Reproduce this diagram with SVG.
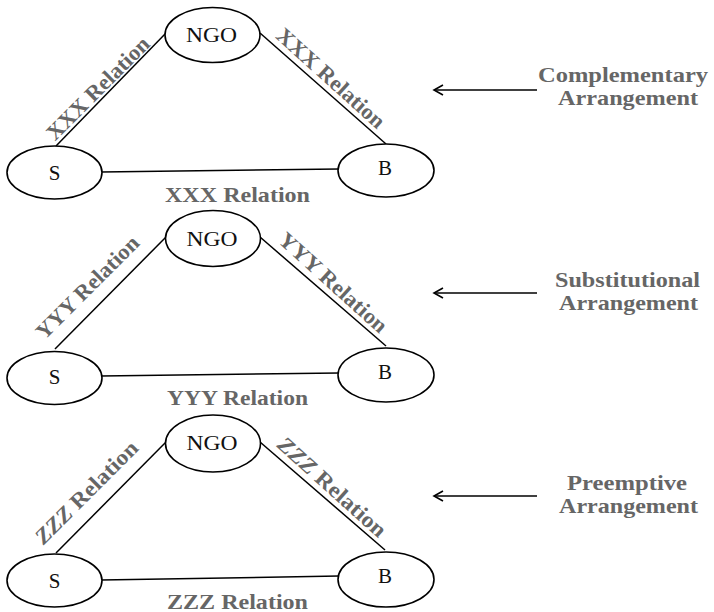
<svg xmlns="http://www.w3.org/2000/svg" width="714" height="612" viewBox="0 0 714 612">
<style>
.node ellipse{fill:#fff;stroke:#000;stroke-width:1.6}
.nt{font-family:"Liberation Serif","Times New Roman",serif;font-size:21px;fill:#111;text-anchor:middle}
.lbl{font-family:"Liberation Serif","Times New Roman",serif;font-size:22px;font-weight:bold;fill:#666;text-anchor:middle}
.cn line{stroke:#000;stroke-width:1.5}
.ar{stroke:#000;stroke-width:1.6;fill:none}
</style>
<defs>
<marker id="chev" markerUnits="userSpaceOnUse" markerWidth="14" markerHeight="14" viewBox="-12 -7 14 14" refX="0" refY="0" orient="auto">
<path d="M-9,-5 L0,0 L-9,5" fill="none" stroke="#000" stroke-width="1.6"/>
</marker>
</defs>
<rect width="714" height="612" fill="#fff"/>
<g id="connectors" class="cn">
<line x1="56" y1="146" x2="166" y2="33"/>
<line x1="260" y1="33" x2="386" y2="144"/>
<line x1="101" y1="172" x2="339" y2="169"/>
<line x1="55" y1="349" x2="166" y2="237"/>
<line x1="260" y1="237" x2="386" y2="346"/>
<line x1="101" y1="376" x2="339" y2="373"/>
<line x1="56" y1="553" x2="166" y2="442"/>
<line x1="260" y1="442" x2="385" y2="550"/>
<line x1="101" y1="580" x2="339" y2="576"/>
<path class="ar" d="M537,90 H434" marker-end="url(#chev)"/>
<path class="ar" d="M537,293 H434" marker-end="url(#chev)"/>
<path class="ar" d="M537,496 H434" marker-end="url(#chev)"/>
</g>
<g id="labels">
<text class="lbl" transform="translate(103,93.5) rotate(-45)" textLength="136" lengthAdjust="spacingAndGlyphs">XXX Relation</text>
<text class="lbl" transform="translate(326,83.5) rotate(42)" textLength="138" lengthAdjust="spacingAndGlyphs">XXX Relation</text>
<text class="lbl" x="237.5" y="201.5" textLength="145" lengthAdjust="spacingAndGlyphs">XXX Relation</text>
<text class="lbl" transform="translate(92.5,292.5) rotate(-45)" textLength="136" lengthAdjust="spacingAndGlyphs">YYY Relation</text>
<text class="lbl" transform="translate(328.3,288) rotate(42)" textLength="138" lengthAdjust="spacingAndGlyphs">YYY Relation</text>
<text class="lbl" x="237.5" y="405" textLength="141" lengthAdjust="spacingAndGlyphs">YYY Relation</text>
<text class="lbl" transform="translate(91.5,497.5) rotate(-45)" textLength="136" lengthAdjust="spacingAndGlyphs"><tspan font-style="italic">ZZZ</tspan> Relation</text>
<text class="lbl" transform="translate(327.3,492.4) rotate(42)" textLength="138" lengthAdjust="spacingAndGlyphs"><tspan font-style="italic">ZZZ</tspan> Relation</text>
<text class="lbl" x="237.5" y="608.5" textLength="141" lengthAdjust="spacingAndGlyphs">ZZZ  Relation</text>
<text class="lbl" x="623" y="82" textLength="170" lengthAdjust="spacingAndGlyphs">Complementary</text>
<text class="lbl" x="628" y="105" textLength="140" lengthAdjust="spacingAndGlyphs">Arrangement</text>
<text class="lbl" x="627.5" y="287" textLength="145" lengthAdjust="spacingAndGlyphs">Substitutional</text>
<text class="lbl" x="628.5" y="310" textLength="139" lengthAdjust="spacingAndGlyphs">Arrangement</text>
<text class="lbl" x="627" y="490" textLength="120" lengthAdjust="spacingAndGlyphs">Preemptive</text>
<text class="lbl" x="628.5" y="513" textLength="139" lengthAdjust="spacingAndGlyphs">Arrangement</text>
</g>
<g id="ngo1" class="node"><ellipse cx="212.5" cy="35" rx="47.5" ry="27.5"/><text class="nt" x="211.5" y="42" textLength="51" lengthAdjust="spacingAndGlyphs">NGO</text></g>
<g id="s1" class="node"><ellipse cx="54.5" cy="172.5" rx="47.5" ry="26.5"/><text class="nt" x="54.5" y="180">S</text></g>
<g id="b1" class="node"><ellipse cx="386" cy="170.5" rx="48" ry="26.5"/><text class="nt" x="385" y="175">B</text></g>
<g id="ngo2" class="node"><ellipse cx="213" cy="238.5" rx="47.5" ry="28"/><text class="nt" x="212" y="245.5" textLength="51" lengthAdjust="spacingAndGlyphs">NGO</text></g>
<g id="s2" class="node"><ellipse cx="54.5" cy="378" rx="47.5" ry="26.5"/><text class="nt" x="54.5" y="384">S</text></g>
<g id="b2" class="node"><ellipse cx="386" cy="375" rx="48" ry="27"/><text class="nt" x="385" y="378.5">B</text></g>
<g id="ngo3" class="node"><ellipse cx="213" cy="443.5" rx="47.5" ry="28.5"/><text class="nt" x="212" y="450" textLength="51" lengthAdjust="spacingAndGlyphs">NGO</text></g>
<g id="s3" class="node"><ellipse cx="54.5" cy="580.5" rx="47.5" ry="26.5"/><text class="nt" x="54.5" y="588">S</text></g>
<g id="b3" class="node"><ellipse cx="386" cy="579.5" rx="48" ry="27.5"/><text class="nt" x="385" y="582.5">B</text></g>
</svg>
